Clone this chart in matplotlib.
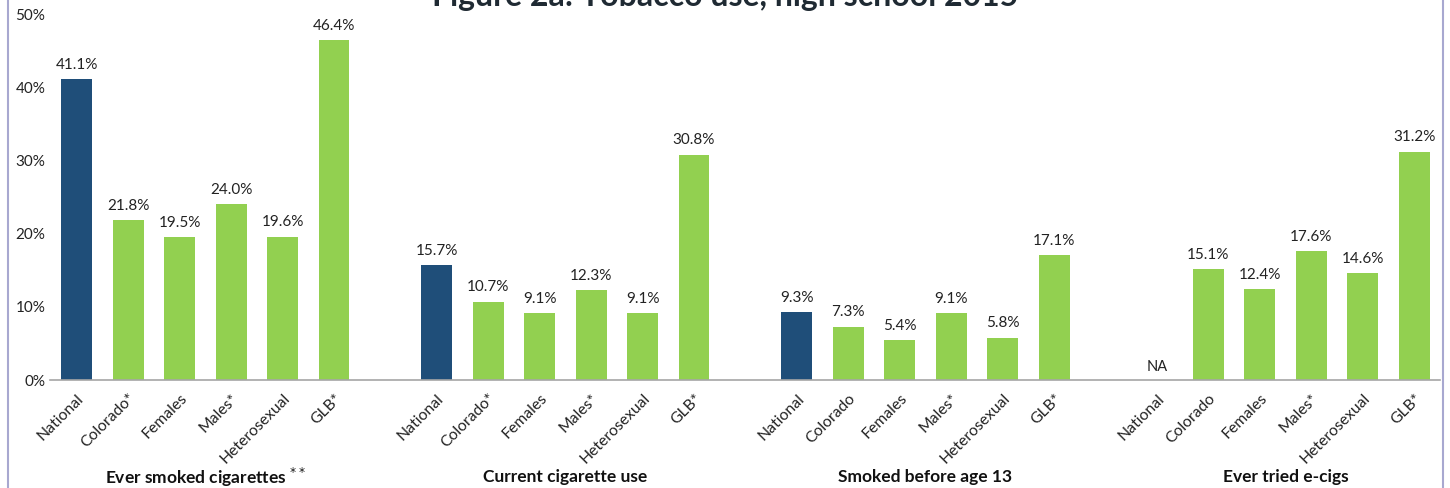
import matplotlib
matplotlib.use('Agg')
import matplotlib.pyplot as plt
import numpy as np

plt.rcParams.update({
    'font.family': ['Lato', 'DejaVu Sans'],
    'font.size': 11,
})

GROUPS = ['Ever smoked cigarettes $^{**}$', 'Current cigarette use',
          'Smoked before age 13', 'Ever tried e-cigs']
CATS = [
    ['National', 'Colorado*', 'Females', 'Males*', 'Heterosexual', 'GLB*'],
    ['National', 'Colorado*', 'Females', 'Males*', 'Heterosexual', 'GLB*'],
    ['National', 'Colorado', 'Females', 'Males*', 'Heterosexual', 'GLB*'],
    ['National', 'Colorado', 'Females', 'Males*', 'Heterosexual', 'GLB*'],
]
ever_smoked = [41.1, 21.8, 19.5, 24.0, 19.6, 46.4]
current_use = [15.7, 10.7, 9.1, 12.3, 9.1, 30.8]
before_13 = [9.3, 7.3, 5.4, 9.1, 5.8, 17.1]
ecigs = [None, 15.1, 12.4, 17.6, 14.6, 31.2]
VALUES = [ever_smoked, current_use, before_13, ecigs]

NAVY = '#1F4E79'
GREEN = '#92D050'

fig = plt.figure(figsize=(14.5, 4.88), dpi=100)
ax = fig.add_axes([0.0345, 0.2213, 0.9585, 0.75])

ticks, ticklabels = [], []
for gi, (vals, cats) in enumerate(zip(VALUES, CATS)):
    for ci, (v, c) in enumerate(zip(vals, cats)):
        x = gi * 7 + ci
        ticks.append(x)
        ticklabels.append(c)
        if v is None:
            ax.text(x, 0.8, 'NA', ha='center', va='bottom', fontsize=10.5,
                    color='#222222')
            continue
        color = NAVY if ci == 0 else GREEN
        ax.bar(x, v, width=0.6, color=color, zorder=2)
        ax.text(x, v + 1.0, f'{v:.1f}%', ha='center', va='bottom',
                fontsize=11, color='#222222')
    ax.text(gi * 7 + 2.5, -0.265, GROUPS[gi], transform=ax.get_xaxis_transform(),
            ha='center', va='center', fontsize=12.5, fontweight='bold',
            color='#111111')

ax.set_xlim(-0.52, 26.5)
ax.set_ylim(0, 50)
ax.set_yticks(range(0, 51, 10))
ax.set_yticklabels([f'{t}%' for t in range(0, 51, 10)])
ax.set_xticks(ticks)
ax.set_xticklabels(ticklabels, rotation=45, ha='right', rotation_mode='anchor',
                   fontsize=11.3)
ax.tick_params(axis='both', length=0, colors='#222222')
ax.tick_params(axis='x', pad=8)
for s in ['top', 'right', 'left']:
    ax.spines[s].set_visible(False)
ax.spines['bottom'].set_color('#A6A6A6')
ax.spines['bottom'].set_linewidth(1.2)
ax.spines['bottom'].set_zorder(3)

# title sits partly above the top edge, as in the source image
fig.text(0.5, 1 - 6 / 488, 'Figure 2a: Tobacco use, high school 2015',
         ha='center', va='baseline', fontsize=23, fontweight='bold',
         color='#1F2A33')

# chart frame
fig.add_artist(plt.Line2D([8 / 1450, 8 / 1450], [0, 1], color='#A8A8D0', lw=1.5))
fig.add_artist(plt.Line2D([1443 / 1450, 1443 / 1450], [0, 1], color='#A8A8D0', lw=1.5))

fig.savefig('out.png', dpi=100)
